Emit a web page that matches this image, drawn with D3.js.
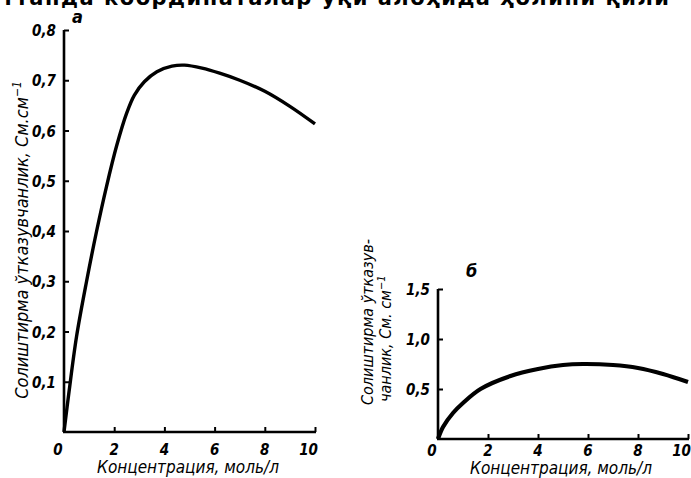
<!DOCTYPE html>
<html>
<head>
<meta charset="utf-8">
<script src="https://cdn.jsdelivr.net/npm/d3@7"></script>
<style>
  body { margin: 0; background: #fff; }
  text { font-family: "DejaVu Sans Condensed", "DejaVu Sans", sans-serif; font-style: italic; fill: #000; }
</style>
</head>
<body>
<div id="chart"></div>
<script>
// panel a
var concA = [0, 0.2, 0.5, 0.9, 1.3, 1.7, 2.1, 2.5, 2.8, 3.2, 3.7, 4.3, 4.8, 5.5, 6.2, 7.0, 8.0, 9.0, 10.0];
var condA = [0, 0.08, 0.19, 0.30, 0.40, 0.49, 0.57, 0.635, 0.67, 0.697, 0.717, 0.728, 0.730, 0.724, 0.714, 0.700, 0.678, 0.648, 0.613];
var yTicksA = [0.1, 0.2, 0.3, 0.4, 0.5, 0.6, 0.7, 0.8];

// panel b
var concB = [0, 0.2, 0.6, 1.0, 1.7, 2.9, 4.0, 5.0, 5.8, 7.0, 8.0, 9.0, 10.0];
var condB = [0, 0.12, 0.26, 0.36, 0.50, 0.63, 0.70, 0.74, 0.75, 0.74, 0.71, 0.65, 0.57];
var yTicksB = [0.5, 1.0, 1.5];

var xTicks = [0, 2, 4, 6, 8, 10];
var xTitle = "Концентрация, моль/л";

var W = 691, H = 478;
var svg = d3.select("#chart").append("svg")
  .attr("width", W).attr("height", H);

var fmt = function(d) { return d3.format(".1f")(d).replace(".", ","); };

// clipped line of book text at top
svg.append("text")
  .attr("x", 2).attr("y", 5)
  .style("font-family", "'DejaVu Sans', sans-serif")
  .style("font-style", "normal")
  .style("font-weight", "bold")
  .style("font-size", "21px")
  .style("letter-spacing", "1.5px")
  .text("ттанда  координаталар  ўқи  алоҳида  ҳолини  қили");

function panel(o) {
  var x = d3.scaleLinear().domain([0, 10]).range([o.x0, o.x1]);
  var y = d3.scaleLinear().domain([0, o.yMax]).range([o.y0, o.y1]);
  var g = svg.append("g");

  // y axis
  g.append("g")
    .attr("transform", "translate(" + o.x0 + ",0)")
    .call(d3.axisRight(y).tickValues(o.yTicks).tickSize(5).tickFormat(""))
    .call(function(a) {
      a.select(".domain").attr("d", "M0," + o.y0 + "V" + o.y1).attr("stroke-width", 2.6);
      a.selectAll(".tick line").attr("stroke-width", 2);
    });
  g.selectAll(".ylab").data(o.yTicks).enter().append("text")
    .attr("x", o.x0 - 8).attr("y", function(d) { return y(d) + 6; })
    .attr("text-anchor", "end")
    .style("font-size", o.fs + "px").style("font-weight", "bold")
    .text(fmt);

  // x axis
  g.append("g")
    .attr("transform", "translate(0," + o.y0 + ")")
    .call(d3.axisTop(x).tickValues(xTicks.slice(1)).tickSize(5).tickFormat(""))
    .call(function(a) {
      a.select(".domain").attr("d", "M" + (o.x0 - 1) + ",0H" + (o.x1 + 1)).attr("stroke-width", 2.6);
      a.selectAll(".tick line").attr("stroke-width", 2);
    });
  g.selectAll(".xlab").data(xTicks).enter().append("text")
    .attr("x", function(d) { return d === 0 ? x(d) - 6 : (d === 10 ? x(d) + 3 : x(d)); })
    .attr("y", o.y0 + o.tdy)
    .attr("text-anchor", function(d) { return d === 10 ? "end" : "middle"; })
    .style("font-size", o.fs + "px").style("font-weight", "bold")
    .text(function(d) { return d; });
  g.append("text")
    .attr("x", o.xt).attr("y", o.y0 + o.ttdy)
    .attr("text-anchor", "middle")
    .style("font-size", "17px")
    .text(xTitle);

  // curve
  var line = d3.line()
    .x(function(d) { return x(d[0]); })
    .y(function(d) { return y(d[1]); })
    .curve(d3.curveCatmullRom.alpha(0.5));
  g.append("path")
    .datum(d3.zip(o.cx, o.cy))
    .attr("fill", "none").attr("stroke", "#000")
    .attr("stroke-width", o.lw).attr("stroke-linejoin", "round")
    .attr("d", line);

  // panel letter
  g.append("text")
    .attr("x", o.lx).attr("y", o.ly)
    .style("font-size", "18px").style("font-weight", "bold")
    .text(o.letter);
  return g;
}

var gA = panel({ x0: 64, x1: 315, y0: 432, y1: 30, yMax: 0.8, yTicks: yTicksA,
  cx: concA, cy: condA, fs: 15, lw: 3.4, xt: 188, tdy: 23, ttdy: 41, letter: "a", lx: 72, ly: 23 });
var gB = panel({ x0: 438, x1: 688, y0: 439, y1: 289, yMax: 1.5, yTicks: yTicksB,
  cx: concB, cy: condB, fs: 15, lw: 4.2, xt: 561, tdy: 17, ttdy: 35, letter: "б", lx: 466, ly: 277 });

// y titles
gA.append("text")
  .attr("transform", "translate(28,240) rotate(-90)")
  .attr("text-anchor", "middle")
  .style("font-size", "18px")
  .html("Солиштирма ўтказувчанлик, См.см<tspan dy='-7' font-size='12px'>−1</tspan>");
gB.append("text")
  .attr("transform", "translate(373,405) rotate(-90)")
  .attr("text-anchor", "start")
  .style("font-size", "16px")
  .text("Солиштирма ўтказув-");
gB.append("text")
  .attr("transform", "translate(391,402) rotate(-90)")
  .attr("text-anchor", "start")
  .style("font-size", "16px")
  .html("чанлик, См. см<tspan dy='-6' font-size='11px'>−1</tspan>");
</script>
</body>
</html>
